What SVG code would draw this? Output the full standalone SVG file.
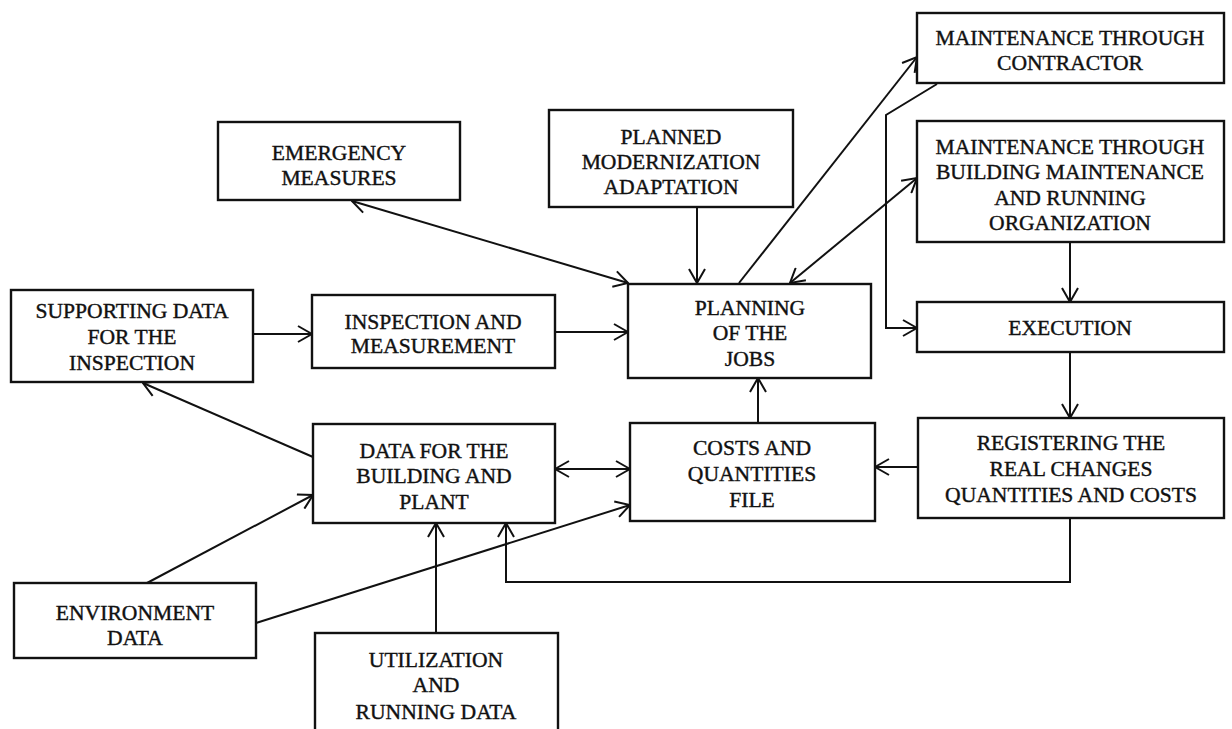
<svg xmlns="http://www.w3.org/2000/svg" width="1232" height="729" viewBox="0 0 1232 729">
<style>
.box{fill:#fff;stroke:#111;stroke-width:2.4}
.t{font-family:"Liberation Serif","Times New Roman",serif;font-size:21.6px;fill:#111;stroke:#111;stroke-width:0.4;text-anchor:middle}
.c{fill:none;stroke:#111;stroke-width:2}
</style>
<defs>
<marker id="ah" viewBox="0 0 16 18" refX="15" refY="9" markerWidth="16" markerHeight="18" markerUnits="userSpaceOnUse" orient="auto-start-reverse">
<path d="M1,1 L15,9 L1,17" fill="none" stroke="#111" stroke-width="2"/>
</marker>
</defs>
<rect width="1232" height="729" fill="#fff"/>
<g id="connectors">
<line class="c" x1="352" y1="201" x2="628" y2="283" marker-start="url(#ah)" marker-end="url(#ah)"/>
<line class="c" x1="697" y1="207" x2="697" y2="283" marker-end="url(#ah)"/>
<line class="c" x1="739" y1="283" x2="917" y2="57" marker-end="url(#ah)"/>
<line class="c" x1="790" y1="283" x2="917" y2="178" marker-start="url(#ah)" marker-end="url(#ah)"/>
<path class="c" d="M937,84 L886,115 L886,328 L917,328" marker-end="url(#ah)"/>
<line class="c" x1="1070" y1="242" x2="1070" y2="302" marker-end="url(#ah)"/>
<line class="c" x1="1070" y1="352" x2="1070" y2="418" marker-end="url(#ah)"/>
<path class="c" d="M1070,518 L1070,582 L506,582 L506,523" marker-end="url(#ah)"/>
<line class="c" x1="918" y1="467" x2="875" y2="467" marker-end="url(#ah)"/>
<line class="c" x1="758" y1="423" x2="758" y2="378" marker-end="url(#ah)"/>
<line class="c" x1="555" y1="332" x2="628" y2="332" marker-end="url(#ah)"/>
<line class="c" x1="253" y1="334" x2="312" y2="334" marker-end="url(#ah)"/>
<line class="c" x1="313" y1="457" x2="143" y2="383" marker-end="url(#ah)"/>
<line class="c" x1="555" y1="469" x2="630" y2="469" marker-start="url(#ah)" marker-end="url(#ah)"/>
<line class="c" x1="147" y1="583" x2="313" y2="495" marker-end="url(#ah)"/>
<line class="c" x1="256" y1="623" x2="630" y2="505" marker-end="url(#ah)"/>
<line class="c" x1="436" y1="633" x2="436" y2="523" marker-end="url(#ah)"/>
</g>
<g id="contractor"><rect class="box" x="917" y="13" width="307" height="70"/>
<text class="t" x="1070" y="45">MAINTENANCE THROUGH</text><text class="t" x="1070" y="70">CONTRACTOR</text></g>
<g id="emergency"><rect class="box" x="218" y="122" width="242" height="78"/>
<text class="t" x="339" y="160">EMERGENCY</text><text class="t" x="339" y="185">MEASURES</text></g>
<g id="planned"><rect class="box" x="549" y="110" width="244" height="97"/>
<text class="t" x="671" y="144">PLANNED</text><text class="t" x="671" y="169">MODERNIZATION</text><text class="t" x="671" y="194">ADAPTATION</text></g>
<g id="building"><rect class="box" x="917" y="121" width="307" height="121"/>
<text class="t" x="1070" y="154">MAINTENANCE THROUGH</text><text class="t" x="1070" y="179">BUILDING MAINTENANCE</text><text class="t" x="1070" y="205">AND RUNNING</text><text class="t" x="1070" y="230">ORGANIZATION</text></g>
<g id="supporting"><rect class="box" x="11" y="290" width="242" height="92"/>
<text class="t" x="132" y="318">SUPPORTING DATA</text><text class="t" x="132" y="344">FOR THE</text><text class="t" x="132" y="370">INSPECTION</text></g>
<g id="inspection"><rect class="box" x="312" y="295" width="243" height="73"/>
<text class="t" x="433" y="329">INSPECTION AND</text><text class="t" x="433" y="353">MEASUREMENT</text></g>
<g id="planning"><rect class="box" x="628" y="284" width="243" height="94"/>
<text class="t" x="750" y="315">PLANNING</text><text class="t" x="750" y="340">OF THE</text><text class="t" x="750" y="366">JOBS</text></g>
<g id="execution"><rect class="box" x="917" y="302" width="307" height="50"/>
<text class="t" x="1070" y="335">EXECUTION</text></g>
<g id="data"><rect class="box" x="313" y="424" width="242" height="99"/>
<text class="t" x="434" y="458">DATA FOR THE</text><text class="t" x="434" y="483">BUILDING AND</text><text class="t" x="434" y="509">PLANT</text></g>
<g id="costs"><rect class="box" x="630" y="423" width="245" height="98"/>
<text class="t" x="752" y="455">COSTS AND</text><text class="t" x="752" y="481">QUANTITIES</text><text class="t" x="752" y="507">FILE</text></g>
<g id="registering"><rect class="box" x="918" y="418" width="306" height="100"/>
<text class="t" x="1071" y="450">REGISTERING THE</text><text class="t" x="1071" y="476">REAL CHANGES</text><text class="t" x="1071" y="502">QUANTITIES AND COSTS</text></g>
<g id="environment"><rect class="box" x="14" y="583" width="242" height="75"/>
<text class="t" x="135" y="620">ENVIRONMENT</text><text class="t" x="135" y="645">DATA</text></g>
<g id="utilization"><rect class="box" x="315" y="633" width="243" height="110"/>
<text class="t" x="436" y="667">UTILIZATION</text><text class="t" x="436" y="692">AND</text><text class="t" x="436" y="719">RUNNING DATA</text></g>
</svg>
